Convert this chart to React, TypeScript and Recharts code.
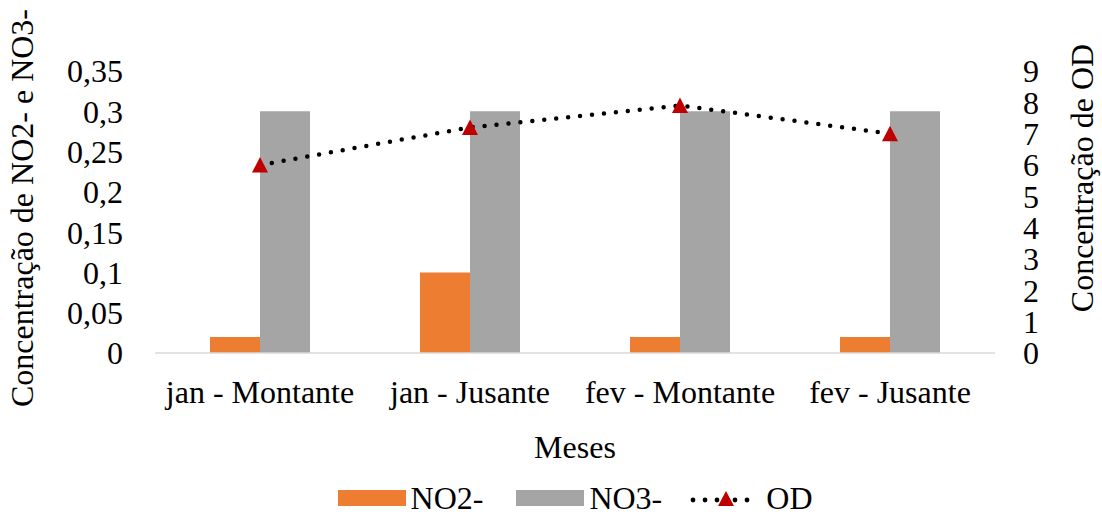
import React from 'react';
import { ComposedChart, Bar, Line, XAxis, YAxis, Label } from 'recharts';

const meses = ['jan - Montante', 'jan - Jusante', 'fev - Montante', 'fev - Jusante'];
const no2 = [0.02, 0.1, 0.02, 0.02];
const no3 = [0.3, 0.3, 0.3, 0.3];
const od = [6, 7.2, 7.9, 7];

const leftTicks = [0, 0.05, 0.1, 0.15, 0.2, 0.25, 0.3, 0.35];
const rightTicks = [0, 1, 2, 3, 4, 5, 6, 7, 8, 9];

const data = meses.map((mes, i) => ({ mes, no2: no2[i], no3: no3[i], od: od[i] }));

const FONT = 'Liberation Serif, Times New Roman, serif';
const ORANGE = '#ED7D31';
const GRAY = '#A5A5A5';
const RED = '#C00000';

const tickStyle = { fill: '#000', fontSize: 32, fontFamily: FONT };

const Triangle = (props: any) => {
  const { cx, cy } = props;
  if (cx == null || cy == null) return null;
  return <polygon points={`${cx},${cy - 8} ${cx - 8},${cy + 7.5} ${cx + 8},${cy + 7.5}`} fill={RED} />;
};

const LeftTitle = (props: any) => {
  const { viewBox } = props;
  const x = viewBox.x + 22;
  const y = viewBox.y + viewBox.height / 2 - 4;
  return (
    <text x={x} y={y} transform={`rotate(-90 ${x} ${y})`} textAnchor="middle" dominantBaseline="central"
      fontFamily={FONT} fontSize={32} fill="#000">
      Concentração de NO2- e NO3-
    </text>
  );
};

const RightTitle = (props: any) => {
  const { viewBox } = props;
  const x = viewBox.x + 87;
  const y = viewBox.y + viewBox.height / 2 - 34;
  return (
    <text x={x} y={y} transform={`rotate(-90 ${x} ${y})`} textAnchor="middle" dominantBaseline="central"
      fontFamily={FONT} fontSize={32} fill="#000">
      Concentração de OD
    </text>
  );
};

const BottomTitle = (props: any) => {
  const { viewBox } = props;
  return (
    <text x={viewBox.x + viewBox.width / 2} y={458} textAnchor="middle" fontFamily={FONT} fontSize={32} fill="#000">
      Meses
    </text>
  );
};

const LegendBox = () => (
  <div style={{
    position: 'absolute', left: 155, width: 840, top: 482, display: 'flex', justifyContent: 'center',
    alignItems: 'center', fontFamily: FONT, fontSize: 32, color: '#000', lineHeight: '32px'
  }}>
    <span style={{ width: 68, height: 16, background: ORANGE, marginRight: 5 }} />
    <span style={{ marginRight: 33 }}>NO2-</span>
    <span style={{ width: 68, height: 16, background: GRAY, marginRight: 5 }} />
    <span style={{ marginRight: 28 }}>NO3-</span>
    <svg width={66} height={20} style={{ marginRight: 10, overflow: 'visible' }}>
      {[3, 15, 27, 45, 57].map((x) => (
        <circle key={x} cx={x} cy={12} r={2.4} fill="#000" />
      ))}
      <polygon points="36,3 28,18 44,18" fill={RED} />
    </svg>
    <span>OD</span>
  </div>
);

export default function App() {
  return (
    <div style={{ position: 'relative', width: 1102, height: 514, background: '#fff' }}>
      <style>{'body{margin:0}'}</style>
      <ComposedChart width={1102} height={514} data={data}
        margin={{ top: 71, right: 0, bottom: 131, left: 0 }} barGap={0} barSize={50}>
        <XAxis dataKey="mes" interval={0} height={30} tickLine={false} tickSize={0} tickMargin={27}
          axisLine={{ stroke: '#D9D9D9', strokeWidth: 1.5 }} tick={tickStyle}>
          <Label content={BottomTitle} />
        </XAxis>
        <YAxis yAxisId="left" orientation="left" width={155} domain={[0, 0.35]} ticks={leftTicks} interval={0}
          tickFormatter={(v: number) => String(v).replace('.', ',')} axisLine={false} tickLine={false}
          tickSize={0} tickMargin={32} tick={tickStyle}>
          <Label content={LeftTitle} />
        </YAxis>
        <YAxis yAxisId="right" orientation="right" width={107} domain={[0, 9]} ticks={rightTicks} interval={0}
          axisLine={false} tickLine={false} tickSize={0} tickMargin={28} tick={tickStyle}>
          <Label content={RightTitle} />
        </YAxis>
        <Bar yAxisId="left" dataKey="no2" name="NO2-" fill={ORANGE} isAnimationActive={false} />
        <Bar yAxisId="left" dataKey="no3" name="NO3-" fill={GRAY} isAnimationActive={false} />
        <Line yAxisId="right" dataKey="od" name="OD" type="linear" stroke="#000" strokeWidth={4.5}
          strokeDasharray="0 12" strokeLinecap="round" dot={<Triangle />} activeDot={false}
          isAnimationActive={false} />
      </ComposedChart>
      <LegendBox />
    </div>
  );
}
